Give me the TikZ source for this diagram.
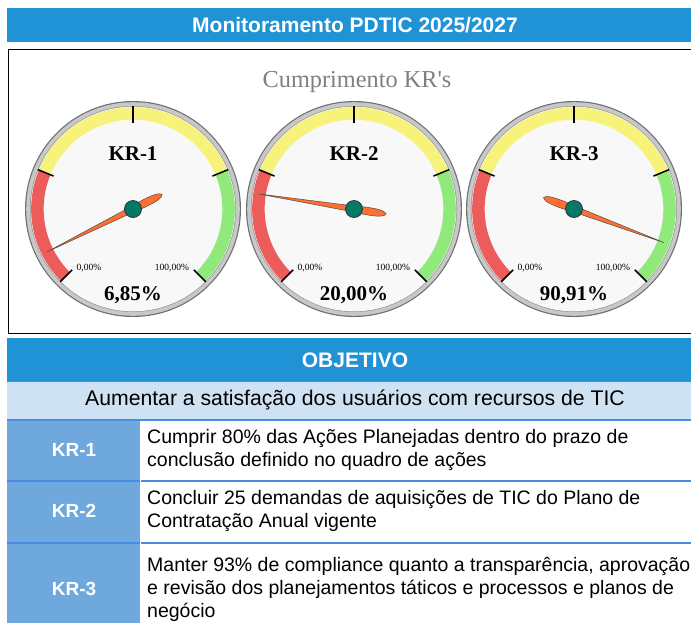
\documentclass[tikz,border=0pt]{standalone}
\usepackage{fontspec}
\newfontfamily\hvfont{Liberation Sans}
\newfontfamily\tnrfont{Liberation Serif}
\definecolor{titleblue}{RGB}{32,146,214}
\definecolor{lightrow}{RGB}{207,226,243}
\definecolor{krcell}{RGB}{111,168,220}
\definecolor{sepblue}{RGB}{74,140,228}
\definecolor{bred}{RGB}{236,92,90}
\definecolor{byellow}{RGB}{246,242,122}
\definecolor{bgreen}{RGB}{144,234,122}
\definecolor{face}{RGB}{248,248,248}
\definecolor{ringout}{RGB}{112,112,112}
\definecolor{ringin}{RGB}{200,200,200}
\definecolor{needleor}{RGB}{255,112,48}
\definecolor{hubteal}{RGB}{4,122,102}
\tikzset{
  bandline/.style={line width=12.5pt},
  tickline/.style={line width=1.5pt, black},
  needleshape/.style={fill=needleor, draw=black!70, line width=0.5pt},
  hubshape/.style={fill=hubteal, draw=black!80, line width=0.8pt},
  krlab/.style={font=\tnrfont\bfseries\fontsize{21}{25}\selectfont, inner sep=0pt},
  vallab/.style={font=\tnrfont\bfseries\fontsize{21}{25}\selectfont, inner sep=0pt},
  scalelab/.style={font=\tnrfont\fontsize{9.5}{11}\selectfont, inner sep=0pt},
  headtxt/.style={font=\hvfont\bfseries\fontsize{21}{25}\selectfont, text=white, inner sep=0pt},
  rowtxt/.style={font=\hvfont\fontsize{19.5}{23}\selectfont, inner sep=0pt, align=left, anchor=west},
  krtxt/.style={font=\hvfont\bfseries\fontsize{19}{23}\selectfont, text=white, inner sep=0pt},
  seprule/.style={draw=sepblue, line width=2pt}
}
\newcommand\drawgauge[5]{%
  \begin{scope}[shift={(#1,209)},yscale=-1]
    \fill[ringout] (0,0) circle[radius=108];
    \fill[ringin] (0,0) circle[radius=106.8];
    \fill[black!45] (0,0) circle[radius=103];
    \fill[face] (0,0) circle[radius=102.4];
    \draw[bandline, bred] (225:95.6) arc[start angle=225, end angle=157.5, radius=95.6];
    \draw[bandline, byellow] (157.5:95.6) arc[start angle=157.5, end angle=22.5, radius=95.6];
    \draw[bandline, bgreen] (22.5:95.6) arc[start angle=22.5, end angle=-45, radius=95.6];
    \foreach \a in {225,157.5,90,22.5,-45} \draw[tickline] (\a:86) -- (\a:103);
    \begin{scope}[rotate=-#5]
      \filldraw[needleshape] (96,0) -- (0,3) .. controls (-14,4.2) and (-27,4.2) .. (-31,1.5)
        .. controls (-33,0.2) and (-33,-0.2) .. (-31,-1.5)
        .. controls (-27,-4.2) and (-14,-4.2) .. (0,-3) -- cycle;
    \end{scope}
    \filldraw[hubshape] (0,0) circle[radius=8.5];
  \end{scope}
  \node[krlab] (kr#2) at (#1,154) {#3};
  \node[scalelab] (zero#2) at (#1-44,268) {0,00\%};
  \node[scalelab] (full#2) at (#1+39,268) {100,00\%};
  \node[vallab] (val#2) at (#1,295) {#4};
}
\begin{document}
\begin{tikzpicture}[x=1pt,y=-1pt]
  \useasboundingbox (0,0) rectangle (691,622);
  \fill[white] (0,0) rectangle (691,622);
  % title bar
  \fill[titleblue] (7,8) rectangle (703,42);
  \node[headtxt] (title) at (355,25) {Monitoramento PDTIC 2025/2027};
  % gauge panel
  \draw[black, line width=1pt, fill=white] (8,49) rectangle (703,333);
  \node[font=\tnrfont\fontsize{24.3}{28}\selectfont, text=black!50, inner sep=0pt] (cumpr) at (357,82) {Cumprimento KR's};
  \drawgauge{133}{a}{KR-1}{6,85\%}{206.5}
  \drawgauge{354}{b}{KR-2}{20,00\%}{171}
  \drawgauge{574}{c}{KR-3}{90,91\%}{-20.5}
  % table
  \fill[titleblue] (7,338) rectangle (703,381);
  \node[headtxt] (obj) at (355,360) {OBJETIVO};
  \fill[lightrow] (7,381) rectangle (703,419);
  \draw[sepblue, line width=1pt] (7,381) -- (703,381);
  \node[font=\hvfont\fontsize{21.2}{25}\selectfont, inner sep=0pt] (aum) at (355,400) {Aumentar a satisfação dos usuários com recursos de TIC};
  \fill[krcell] (7,420) rectangle (140,481);
  \fill[krcell] (7,481) rectangle (140,543);
  \fill[krcell] (7,543) rectangle (140,630);
  \draw[seprule] (7,420) -- (703,420);
  \draw[seprule] (7,481) -- (703,481);
  \draw[seprule] (7,543) -- (703,543);
  \draw[white, line width=1pt] (140.5,421) -- (140.5,630);
  \node[krtxt] (k1) at (74,450) {KR-1};
  \node[krtxt] (k2) at (74,511) {KR-2};
  \node[krtxt] (k3) at (74,589) {KR-3};
  \node[rowtxt] (t1) at (147,450) {Cumprir 80\% das Ações Planejadas dentro do prazo de\\conclusão definido no quadro de ações};
  \node[rowtxt] (t2) at (147,511) {Concluir 25 demandas de aquisições de TIC do Plano de\\Contratação Anual vigente};
  \node[rowtxt] (t3) at (147,589) {Manter 93\% de compliance quanto a transparência, aprovação\\e revisão dos planejamentos táticos e processos e planos de\\negócio};
\end{tikzpicture}
\end{document}
